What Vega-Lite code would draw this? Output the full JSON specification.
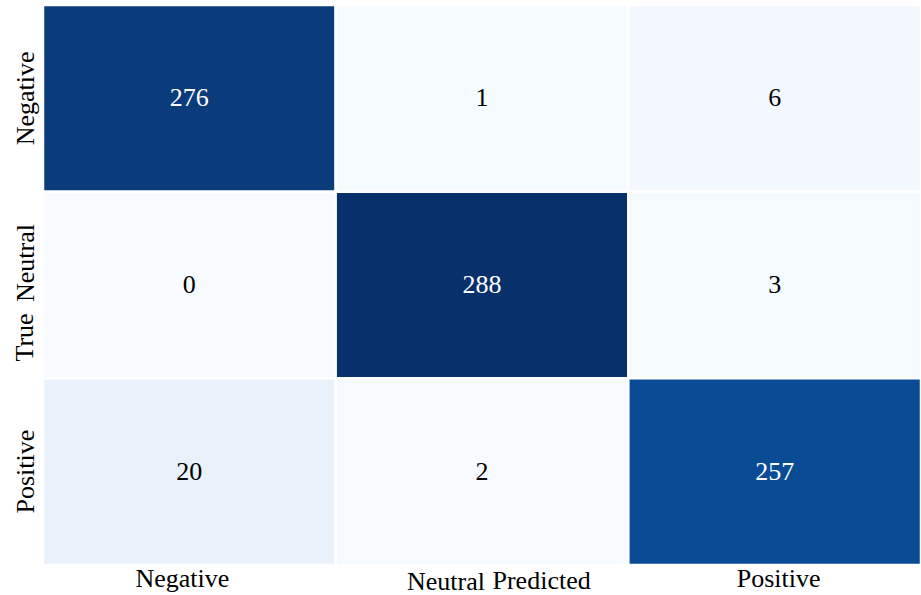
{
  "$schema": "https://vega.github.io/schema/vega-lite/v6.json",
  "autosize": "none",
  "padding": {"left": 43, "top": 5, "right": 0, "bottom": 30},
  "width": 878,
  "height": 560,
  "background": "white",
  "config": {"view": {"stroke": null}, "font": "Liberation Serif"},
  "data": {
    "values": [
      {"actual": "Negative", "predicted": "Negative", "count": 276},
      {"actual": "Negative", "predicted": "Neutral", "count": 1},
      {"actual": "Negative", "predicted": "Positive", "count": 6},
      {"actual": "Neutral", "predicted": "Negative", "count": 0},
      {"actual": "Neutral", "predicted": "Neutral", "count": 288},
      {"actual": "Neutral", "predicted": "Positive", "count": 3},
      {"actual": "Positive", "predicted": "Negative", "count": 20},
      {"actual": "Positive", "predicted": "Neutral", "count": 2},
      {"actual": "Positive", "predicted": "Positive", "count": 257}
    ]
  },
  "encoding": {
    "x": {
      "field": "predicted",
      "type": "nominal",
      "sort": ["Negative", "Neutral", "Positive"],
      "scale": {"paddingInner": 0, "paddingOuter": 0},
      "axis": {
        "title": "Predicted",
        "labelAngle": 0,
        "labelFont": "Liberation Serif",
        "labelFontSize": 26,
        "labelColor": "black",
        "labelBaseline": "top",
        "labelLimit": 0,
        "labelOverlap": false,
        "labelPadding": {"condition": {"test": "datum.value === 'Neutral'", "value": 3}, "value": 0},
        "labelOffset": {
          "condition": [
            {"test": "datum.value === 'Neutral'", "value": -36},
            {"test": "datum.value === 'Negative'", "value": -7}
          ],
          "value": 4
        },
        "ticks": false,
        "domain": false,
        "titleFont": "Liberation Serif",
        "titleFontSize": 26,
        "titleFontWeight": "normal",
        "titleColor": "black",
        "titleAngle": 0,
        "titleAlign": "left",
        "titleBaseline": "alphabetic",
        "titleX": 449,
        "titleY": 23
      }
    },
    "y": {
      "field": "actual",
      "type": "nominal",
      "sort": ["Negative", "Neutral", "Positive"],
      "scale": {"paddingInner": 0, "paddingOuter": 0},
      "axis": {
        "title": "True",
        "labelAngle": -90,
        "labelAlign": "center",
        "labelBaseline": "bottom",
        "labelFont": "Liberation Serif",
        "labelFontSize": 26,
        "labelColor": "black",
        "labelLimit": 0,
        "labelOverlap": false,
        "labelPadding": 5,
        "labelOffset": {"condition": {"test": "datum.value === 'Neutral'", "value": -22}, "value": 0},
        "ticks": false,
        "domain": false,
        "titleFont": "Liberation Serif",
        "titleFontSize": 26,
        "titleFontWeight": "normal",
        "titleColor": "black",
        "titleAngle": -90,
        "titleAlign": "center",
        "titleBaseline": "alphabetic",
        "titleX": -11,
        "titleY": 332
      }
    }
  },
  "layer": [
    {
      "mark": {"type": "rect", "stroke": "white", "strokeWidth": 2.5},
      "encoding": {
        "color": {
          "field": "count",
          "type": "quantitative",
          "scale": {
            "domain": [0, 36, 72, 108, 144, 180, 216, 252, 288],
            "range": ["#f7fbff", "#deebf7", "#c6dbef", "#9ecae1", "#6baed6", "#4292c6", "#2171b5", "#08519c", "#08306b"]
          },
          "legend": null
        }
      }
    },
    {
      "mark": {"type": "text", "font": "Liberation Serif", "fontSize": 26},
      "encoding": {
        "text": {"field": "count", "type": "quantitative"},
        "color": {
          "condition": {"test": "datum.count > 144", "value": "white"},
          "value": "black"
        }
      }
    }
  ]
}
